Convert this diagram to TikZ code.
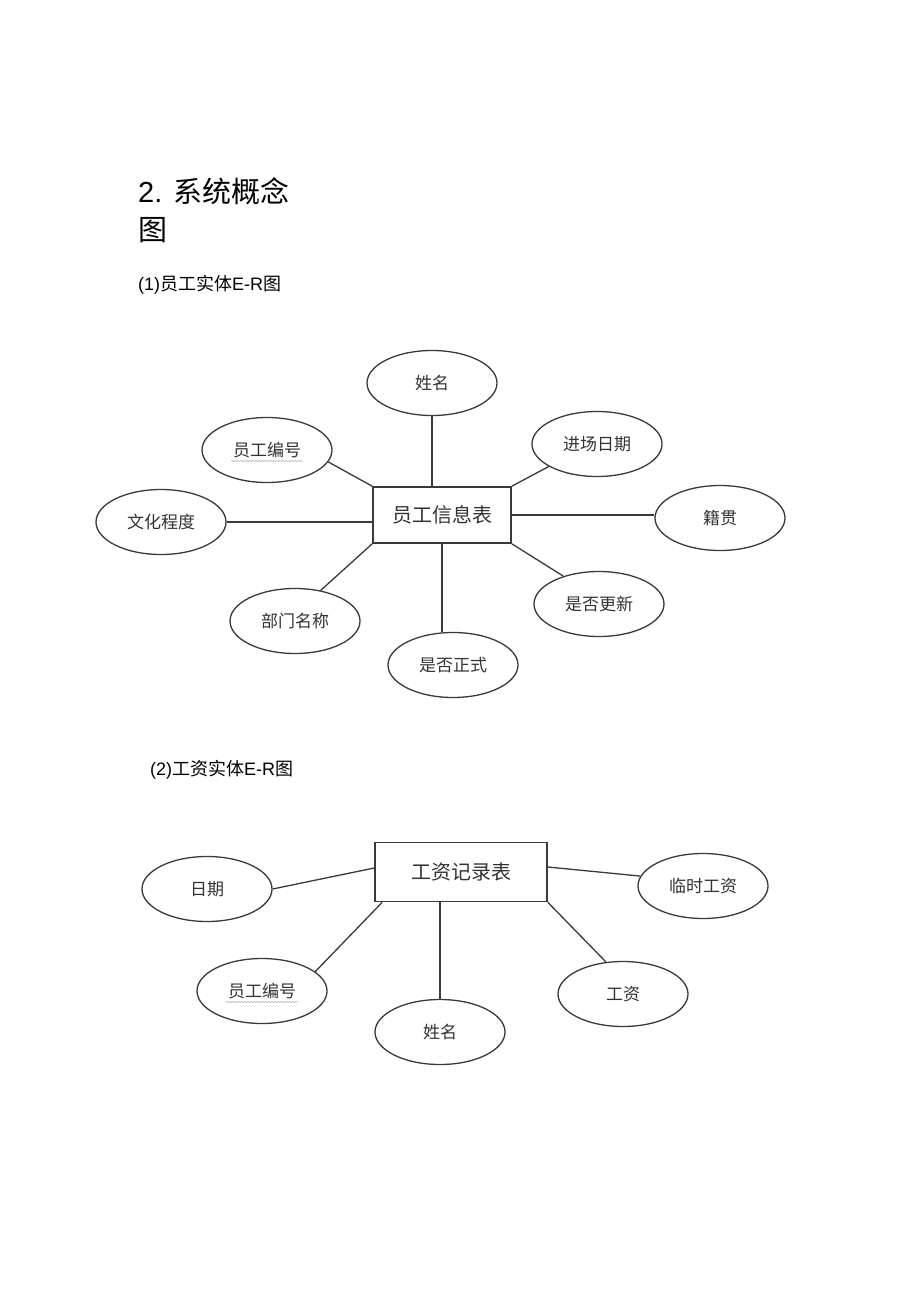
\documentclass[tikz,border=0pt]{standalone}
\usepackage{fontspec}
\setmainfont{Liberation Sans}
\newfontfamily\cjk{Noto Sans CJK SC}
\usetikzlibrary{shapes.geometric,decorations.pathmorphing}
\definecolor{lc}{HTML}{3A3A3A}
\definecolor{tc}{HTML}{333333}
\begin{document}
\begin{tikzpicture}[x=1pt,y=-1pt,
  attr/.style={ellipse, draw=lc, line width=1.3pt, minimum width=130pt, minimum height=65pt, inner sep=0pt, font=\cjk\fontsize{17}{17}\selectfont, text=tc},
  ent/.style={rectangle, draw=lc, line width=1.6pt, inner sep=0pt, font=\cjk\fontsize{20}{20}\selectfont, text=tc},
  conn/.style={draw=lc, line width=1.3pt},
  squig/.style={draw=gray!55, line width=0.6pt, decorate, decoration={snake, amplitude=0.7pt, segment length=3pt}},
  head/.style={anchor=base west, inner sep=0pt, text=black}]
\path[use as bounding box, fill=white] (0,0) rectangle (920,1303);

% headings
\node[head, font=\fontsize{29}{29}\selectfont] (t1) at (138,202) {2. {\cjk 系统概念}};
\node[head, font=\cjk\fontsize{29}{29}\selectfont] (t2) at (138,240) {图};
\node[head, font=\fontsize{18}{18}\selectfont] (s1) at (138,290) {(1){\cjk 员工实体}E-R{\cjk 图}};
\node[head, font=\fontsize{18}{18}\selectfont] (s2) at (150,775) {(2){\cjk 工资实体}E-R{\cjk 图}};

% diagram 1
\node[ent, minimum width=138pt, minimum height=56pt] (emp) at (442,515) {员工信息表};
\node[attr] (xm) at (432,383) {姓名};
\node[attr] (bh) at (267,450) {员工编号};
\node[attr] (jc) at (597,444) {进场日期};
\node[attr] (wh) at (161,522) {文化程度};
\node[attr] (jg) at (720,518) {籍贯};
\node[attr] (bm) at (295,621) {部门名称};
\node[attr] (zs) at (453,665) {是否正式};
\node[attr] (gx) at (599,604) {是否更新};

\draw[conn] (xm.south) -- (xm.south |- emp.north);
\draw[conn] (bh.-11) -- (emp.north west);
\draw[conn] (jc.-155) -- (emp.north east);
\draw[conn] (wh.east) -- (wh.east -| emp.west);
\draw[conn] (emp.east) -- (emp.east -| jg.west);
\draw[conn] (bm.50) -- (emp.south west);
\draw[conn] (emp.south) -- (emp.south |- zs.north);
\draw[conn] (gx.142) -- (emp.south east);

\draw[squig] ([xshift=-36pt,yshift=-11pt]bh.center) -- ([xshift=36pt,yshift=-11pt]bh.center);

% diagram 2
\node[ent, minimum width=172pt, minimum height=59pt] (gz) at (461,872) {工资记录表};
\node[attr] (rq) at (207,889) {日期};
\node[attr] (ls) at (703,886) {临时工资};
\node[attr] (bh2) at (262,991) {员工编号};
\node[attr] (gzi) at (623,994) {工资};
\node[attr] (xm2) at (440,1032) {姓名};

\draw[conn] (rq.east) -- ([yshift=4pt]gz.west);
\draw[conn] (ls.171) -- ([yshift=5pt]gz.east);
\draw[conn] (bh2.20) -- ([xshift=8pt]gz.south west);
\draw[conn] (xm2.north) -- (xm2.north |- gz.south);
\draw[conn] (gzi.118) -- (gz.south east);

\draw[squig] ([xshift=-36pt,yshift=-11pt]bh2.center) -- ([xshift=36pt,yshift=-11pt]bh2.center);
\end{tikzpicture}
\end{document}
